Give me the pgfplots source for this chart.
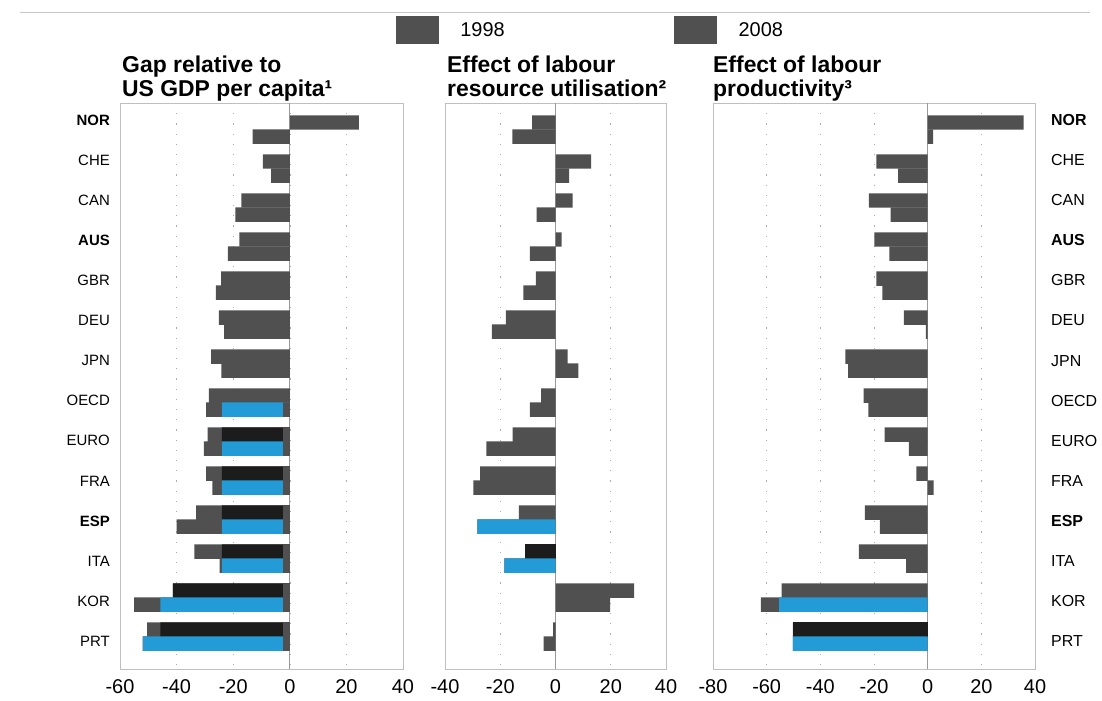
\documentclass[border=0pt]{standalone}
\usepackage{pgfplots}
\usepackage{pgfplotstable}
\pgfplotsset{compat=1.18}
\usepackage{fontspec}
\setmainfont{Liberation Sans}
\definecolor{barg}{RGB}{80,80,80}
\definecolor{bark}{RGB}{28,28,28}
\definecolor{barb}{RGB}{35,155,215}

% Panel 1: gap relative to US GDP per capita
\pgfplotstableread{
y a b
0 24.4 -13.1
1 -9.5 -6.6
2 -17.1 -19.2
3 -17.8 -21.9
4 -24.3 -26.1
5 -25.1 -23.2
6 -27.8 -24.2
7 -28.6 -29.6
8 -29.0 -30.4
9 -29.6 -27.4
10 -33.1 -40.0
11 -33.7 -24.8
12 -41.3 -55.0
13 -50.4 -52.0
}\gapdata
\pgfplotstableread{
y k g
8 -24 -2.4
9 -24 -2.4
10 -24 -2.4
11 -24 -2.4
12 -41.3 -2.4
13 -45.7 -2.4
}\gapblack
\pgfplotstableread{
y c g
7 -24 -2.4
8 -24 -2.4
9 -24 -2.4
10 -24 -2.4
11 -24 -2.4
12 -45.7 -2.4
13 -51.8 -2.4
}\gapblue

% Panel 2: labour resource utilisation
\pgfplotstableread{
y a b
0 -8.5 -15.6
1 12.9 4.9
2 6.2 -6.8
3 2.2 -9.3
4 -7.1 -11.6
5 -18.0 -23.0
6 4.4 8.3
7 -5.2 -9.3
8 -15.5 -25.0
9 -27.3 -29.7
10 -13.3 -28.3
11 -11.0 -18.5
12 28.5 19.8
13 -0.9 -4.3
}\utildata
\pgfplotstableread{
y k
11 -11.0
}\utilblack
\pgfplotstableread{
y c
10 -28.3
11 -18.5
}\utilblue

% Panel 3: labour productivity
\pgfplotstableread{
y a b
0 35.8 2.0
1 -19.1 -11.0
2 -21.9 -13.8
3 -19.9 -14.3
4 -19.1 -16.9
5 -8.9 -0.7
6 -30.7 -29.6
7 -23.9 -22.1
8 -16.0 -7.0
9 -4.2 2.2
10 -23.4 -17.8
11 -25.6 -8.0
12 -54.4 -62.2
13 -50.2 -50.2
}\proddata
\pgfplotstableread{
y k
13 -50.2
}\prodblack
\pgfplotstableread{
y c
12 -55.4
13 -50.2
}\prodblue

\pgfplotsset{
  barstyle/.style={xbar, draw=none, bar width=0.37, bar shift=0pt, forget plot},
  panel/.style={
    scale only axis, height=566bp,
    ymin=-0.68, ymax=13.83, y dir=reverse,
    major tick length=0pt,
    axis line style={gray!50, line width=0.6bp},
    xmajorgrids,
    major grid style={gray!65, line width=0.6bp, dash pattern=on 1.2bp off 9bp},
    extra x ticks={0}, extra x tick labels={},
    extra x tick style={major grid style={gray!80, line width=0.7bp, solid}},
    xticklabel style={font=\fontsize{20}{20}\selectfont, inner sep=0pt, yshift=-10bp},
    /pgf/number format/assume math mode=true,
    ytick={-0.244,0.784,1.812,2.840,3.868,4.897,5.925,6.953,7.981,9.009,10.038,11.066,12.094,13.122},
    yticklabels={\textbf{NOR},CHE,CAN,\textbf{AUS},GBR,DEU,JPN,OECD,EURO,FRA,\textbf{ESP},ITA,KOR,PRT},
    title style={at={(0,1)}, anchor=north west, yshift=41bp, align=left, inner sep=0pt,
      font=\fontsize{23}{23.5}\selectfont\bfseries},
  },
}

\begin{document}
\begin{tikzpicture}
\path[use as bounding box] (0,0) rectangle (1102bp,701bp);
\draw[gray!45, line width=0.8bp] (20bp,689bp) -- (1090bp,689bp);

% ---------- Panel 1 ----------
\begin{axis}[panel, at={(120bp,32bp)}, anchor=south west, width=283bp,
  xmin=-60, xmax=40, xtick={-60,-40,...,40},
  yticklabel style={font=\fontsize{15}{15}\selectfont, anchor=east, inner sep=0pt, xshift=-10bp},
  title style={xshift=2bp},
  title={Gap relative to\\US GDP per capita¹},
  legend style={at={(0.9753,1.1537)}, anchor=north west, draw=none, fill=none,
    inner sep=0pt, outer sep=0pt, legend columns=2,
    nodes={inner sep=0pt, text depth=0pt, font=\fontsize{20}{20}\selectfont},
    /tikz/every odd column/.append style={column sep=22bp},
    /tikz/every even column/.append style={column sep=169.5bp}},
  legend cell align=left]
\addlegendimage{legend image code/.code={\fill[barg] (0bp,-13.5bp) rectangle (42bp,13.5bp);}}
\addlegendentry{1998}
\addlegendimage{legend image code/.code={\fill[barg] (0bp,-13.5bp) rectangle (42bp,13.5bp);}}
\addlegendentry{2008}
\addplot[barstyle, fill=barg] table[x=a, y expr=\thisrow{y}-0.18] {\gapdata};
\addplot[barstyle, fill=barg] table[x=b, y expr=\thisrow{y}+0.18] {\gapdata};
\addplot[barstyle, fill=bark] table[x=k, y expr=\thisrow{y}-0.18] {\gapblack};
\addplot[barstyle, fill=barb] table[x=c, y expr=\thisrow{y}+0.18] {\gapblue};
\addplot[barstyle, fill=barg] table[x=g, y expr=\thisrow{y}-0.18] {\gapblack};
\addplot[barstyle, fill=barg] table[x=g, y expr=\thisrow{y}+0.18] {\gapblue};
\end{axis}

% ---------- Panel 2 ----------
\begin{axis}[panel, at={(445bp,32bp)}, anchor=south west, width=221bp,
  xmin=-40, xmax=40, xtick={-40,-20,...,40}, ytick=\empty,
  title style={xshift=2bp},
  title={Effect of labour\\resource utilisation²}]
\addplot[barstyle, fill=barg] table[x=a, y expr=\thisrow{y}-0.18] {\utildata};
\addplot[barstyle, fill=barg] table[x=b, y expr=\thisrow{y}+0.18] {\utildata};
\addplot[barstyle, fill=bark] table[x=k, y expr=\thisrow{y}-0.18] {\utilblack};
\addplot[barstyle, fill=barb] table[x=c, y expr=\thisrow{y}+0.18] {\utilblue};
\end{axis}

% ---------- Panel 3 ----------
\begin{axis}[panel, at={(713bp,32bp)}, anchor=south west, width=322bp,
  xmin=-80, xmax=40, xtick={-80,-60,...,40},
  yticklabel pos=right,
  yticklabel style={font=\fontsize{16}{16}\selectfont, anchor=west, inner sep=0pt, xshift=16bp},
  title={Effect of labour\\productivity³}]
\addplot[barstyle, fill=barg] table[x=a, y expr=\thisrow{y}-0.18] {\proddata};
\addplot[barstyle, fill=barg] table[x=b, y expr=\thisrow{y}+0.18] {\proddata};
\addplot[barstyle, fill=bark] table[x=k, y expr=\thisrow{y}-0.18] {\prodblack};
\addplot[barstyle, fill=barb] table[x=c, y expr=\thisrow{y}+0.18] {\prodblue};
\end{axis}
\end{tikzpicture}
\end{document}
